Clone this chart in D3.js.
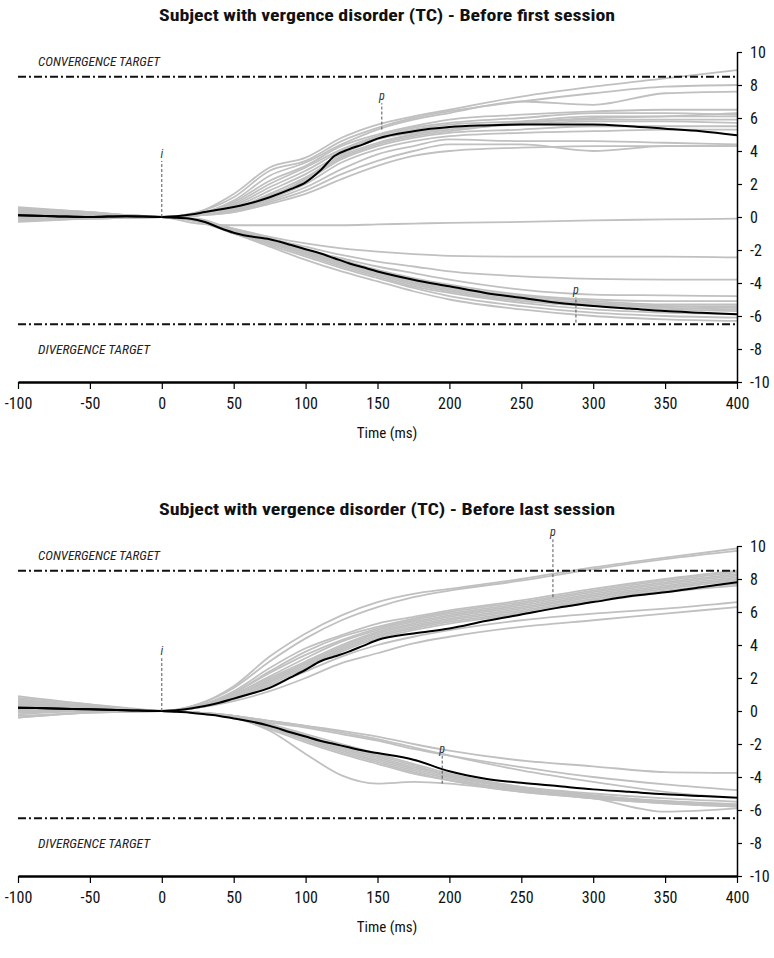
<!DOCTYPE html>
<html><head><meta charset="utf-8">
<script src="https://d3js.org/d3.v7.min.js"></script>
<style>
body{margin:0;background:#fff;}
svg text{font-family:"Liberation Sans Narrow","Arial Narrow","Roboto Condensed","Open Sans",sans-serif;}
</style></head>
<body>
<script>
// ---------- DATA ----------
const xTicks = [-100,-50,0,50,100,150,200,250,300,350,400];
const yTicks = [-10,-8,-6,-4,-2,0,2,4,6,8,10];
const titles = ["Subject with vergence disorder (TC) - Before first session",
                "Subject with vergence disorder (TC) - Before last session"];
const xLabel = "Time (ms)";
const convergenceTarget = 8.5;
const divergenceTarget = -6.5;

// time grid of individual (gray) traces
const tGray = [-100,-50,0,25,50,75,100,125,150,175,200,250,300,350,400];
// time grid of mean (black) traces
const tMean = [-100,-75,-50,-25,0,10,20,30,40,50,60,75,90,100,110,120,130,140,150,175,200,225,250,275,300,325,350,375,400];

// Panel 1 - before first session
const firstConvTrials = [
 [0.5,0.3,0,0.3,1.4,3.0,3.6,4.8,5.6,6.1,6.5,7.3,7.9,8.4,8.9],
 [0.3,0.2,0,0.3,1.2,2.8,3.4,4.6,5.4,6.0,6.4,7.0,7.5,7.9,8.0],
 [0.2,0.1,0,0.2,1.0,2.5,3.3,4.4,5.3,5.9,6.3,7.0,6.8,7.5,7.6],
 [0.6,0.3,0,0.2,0.9,2.2,3.1,4.3,5.0,5.5,5.9,6.2,6.4,6.5,6.5],
 [0.1,0.1,0,0.2,0.8,2.0,3.0,4.1,4.9,5.4,5.7,6.0,6.3,6.3,6.2],
 [0.4,0.2,0,0.2,0.7,1.8,2.8,4.0,4.8,5.3,5.6,5.8,6.1,6.1,6.1],
 [-0.1,0.0,0,0.2,0.6,1.6,2.6,3.8,4.7,5.1,5.4,5.7,5.9,5.9,5.9],
 [0.2,0.1,0,0.1,0.5,1.4,2.4,3.7,4.5,5.0,5.3,5.6,5.8,5.8,5.7],
 [0.0,0.0,0,0.1,0.5,1.3,2.2,3.5,4.3,4.8,5.1,5.3,5.5,5.5,5.5],
 [-0.2,-0.1,0,0.1,0.4,1.1,2.0,3.3,4.1,4.6,4.9,5.1,5.2,5.3,5.3],
 [0.3,0.1,0,0.1,0.4,1.0,1.8,2.9,3.8,4.3,4.7,4.6,4.6,4.5,4.4],
 [0.1,0.0,0,0.1,0.3,0.9,1.6,2.6,3.4,4.0,4.4,4.4,4.0,4.3,4.3],
 [-0.3,-0.1,0,0.1,0.3,0.8,1.4,2.3,3.1,3.7,4.0,4.2,4.3,4.3,4.3],
 [0.2,0.1,0,0.1,0.4,1.2,2.3,3.6,4.4,4.9,5.2,5.7,6.0,6.1,6.3]
];
const firstDivTrials = [
 [0.3,0.1,0,-0.4,-0.5,-0.5,-0.5,-0.5,-0.45,-0.4,-0.35,-0.3,-0.2,-0.15,-0.1],
 [0.0,0.0,0,-0.2,-0.7,-1.2,-1.6,-1.9,-2.1,-2.25,-2.35,-2.4,-2.4,-2.4,-2.45],
 [0.2,0.1,0,-0.2,-0.7,-1.3,-1.8,-2.3,-2.7,-3.0,-3.3,-3.6,-3.75,-3.8,-3.8],
 [0.1,0.0,0,-0.2,-0.8,-1.4,-2.0,-2.5,-3.0,-3.4,-3.8,-4.4,-4.7,-4.75,-4.8],
 [0.4,0.2,0,-0.2,-0.8,-1.4,-2.0,-2.6,-3.2,-3.7,-4.1,-4.7,-5.0,-5.1,-5.1],
 [-0.1,0.0,0,-0.2,-0.9,-1.5,-2.1,-2.7,-3.3,-3.8,-4.2,-4.8,-5.1,-5.3,-5.3],
 [0.3,0.1,0,-0.1,-0.8,-1.4,-2.1,-2.7,-3.3,-3.9,-4.3,-4.9,-5.2,-5.4,-5.5],
 [0.0,0.0,0,-0.2,-0.9,-1.5,-2.2,-2.8,-3.4,-4.0,-4.4,-5.0,-5.3,-5.5,-5.6],
 [0.5,0.2,0,-0.2,-0.9,-1.6,-2.2,-2.9,-3.5,-4.1,-4.5,-5.1,-5.4,-5.6,-5.7],
 [-0.2,-0.1,0,-0.2,-1.0,-1.6,-2.3,-3.0,-3.6,-4.2,-4.6,-5.2,-5.6,-5.8,-5.9],
 [0.2,0.1,0,-0.2,-1.0,-1.7,-2.4,-3.1,-3.7,-4.3,-4.8,-5.4,-5.8,-6.0,-6.1],
 [0.1,0.0,0,-0.3,-1.0,-1.8,-2.6,-3.3,-3.9,-4.5,-5.0,-5.6,-6.0,-6.2,-6.3],
 [0.4,0.2,0,-0.2,-0.9,-1.5,-2.1,-2.8,-3.4,-3.9,-4.3,-4.9,-5.3,-5.4,-5.4]
];
const firstConvMean = [0.1,0.05,0.0,0.05,0,0.05,0.15,0.3,0.45,0.6,0.8,1.2,1.7,2.1,2.8,3.7,4.1,4.4,4.75,5.2,5.45,5.55,5.6,5.6,5.6,5.5,5.35,5.2,4.95];
const firstDivMean  = [0.1,0.05,0.0,0.05,0,-0.05,-0.1,-0.3,-0.65,-0.95,-1.15,-1.35,-1.7,-1.95,-2.2,-2.5,-2.8,-3.05,-3.3,-3.8,-4.2,-4.6,-4.9,-5.2,-5.4,-5.55,-5.7,-5.8,-5.9];

// Panel 2 - before last session
const lastConvTrials = [
 [0.9,0.4,0,0.4,1.5,3.3,4.7,5.8,6.6,7.1,7.4,8.0,8.7,9.3,9.85],
 [0.7,0.3,0,0.4,1.4,3.0,4.4,5.5,6.3,6.9,7.3,7.9,8.6,9.2,9.7],
 [0.5,0.2,0,0.3,1.2,2.6,3.8,4.6,5.3,5.7,6.1,6.7,7.4,8.0,8.5],
 [0.3,0.1,0,0.3,1.1,2.4,3.6,4.5,5.1,5.6,6.0,6.6,7.3,7.9,8.4],
 [-0.2,0.0,0,0.3,1.1,2.3,3.4,4.3,5.0,5.5,5.9,6.5,7.2,7.8,8.3],
 [0.6,0.3,0,0.3,1.0,2.1,3.2,4.2,4.9,5.4,5.8,6.4,7.1,7.7,8.2],
 [0.1,0.0,0,0.2,1.0,2.0,3.0,4.0,4.8,5.3,5.7,6.3,7.0,7.6,8.1],
 [-0.4,-0.1,0,0.2,0.9,1.9,2.9,3.9,4.7,5.2,5.6,6.2,6.9,7.5,8.0],
 [0.4,0.2,0,0.2,0.9,1.8,2.8,3.8,4.6,5.1,5.5,6.1,6.8,7.4,7.9],
 [0.2,0.1,0,0.2,0.8,1.7,2.7,3.7,4.5,5.0,5.4,6.0,6.7,7.3,7.7],
 [-0.1,0.0,0,0.2,0.8,1.6,2.6,3.6,4.4,4.9,5.3,5.9,6.6,7.2,7.6],
 [0.3,0.1,0,0.2,0.7,1.5,2.4,3.3,4.0,4.5,4.9,5.5,5.9,6.2,6.6],
 [0.0,0.0,0,0.2,0.6,1.2,2.0,2.9,3.5,4.1,4.5,5.1,5.5,5.9,6.3]
];
const lastDivTrials = [
 [0.7,0.3,0,-0.1,-0.3,-0.6,-0.9,-1.2,-1.55,-2.0,-2.4,-3.0,-3.35,-3.7,-3.75],
 [0.5,0.2,0,-0.1,-0.3,-0.7,-1.0,-1.4,-1.8,-2.3,-2.7,-3.4,-4.0,-4.45,-4.8],
 [0.2,0.1,0,-0.1,-0.3,-0.6,-0.9,-1.3,-1.7,-2.2,-2.7,-3.6,-4.3,-4.9,-5.3],
 [0.8,0.4,0,-0.1,-0.4,-1.2,-2.6,-3.9,-4.4,-4.3,-4.4,-4.9,-5.3,-5.6,-5.8],
 [0.4,0.2,0,-0.1,-0.3,-0.8,-1.4,-2.0,-2.6,-3.2,-3.8,-4.6,-5.1,-5.5,-5.7],
 [0.2,0.1,0,-0.1,-0.3,-0.9,-1.5,-2.2,-2.8,-3.4,-3.9,-4.7,-5.2,-5.55,-5.75],
 [-0.3,-0.1,0,-0.1,-0.4,-1.0,-1.7,-2.4,-3.0,-3.6,-4.1,-4.8,-5.2,-5.5,-5.7],
 [0.6,0.3,0,-0.1,-0.4,-1.1,-1.9,-2.6,-3.2,-3.8,-4.2,-4.8,-5.3,-5.6,-5.8],
 [0.0,0.0,0,-0.1,-0.3,-0.8,-1.5,-2.1,-2.7,-3.3,-3.9,-4.6,-5.0,-5.3,-5.5],
 [-0.4,-0.1,0,-0.1,-0.4,-1.0,-1.8,-2.5,-3.1,-3.7,-4.2,-4.9,-5.3,-6.1,-5.9],
 [0.3,0.1,0,-0.1,-0.3,-0.9,-1.6,-2.3,-2.9,-3.5,-4.0,-4.7,-5.15,-5.45,-5.65]
];
const lastConvMean = [0.2,0.15,0.1,0.05,0,0.05,0.15,0.3,0.5,0.75,1.0,1.4,2.05,2.5,3.0,3.3,3.6,3.95,4.3,4.7,5.0,5.45,5.85,6.25,6.6,6.95,7.2,7.5,7.8];
const lastDivMean  = [0.2,0.15,0.1,0.05,0,-0.05,-0.1,-0.2,-0.3,-0.45,-0.6,-0.9,-1.3,-1.55,-1.8,-2.0,-2.2,-2.4,-2.55,-2.95,-3.65,-4.1,-4.35,-4.55,-4.75,-4.9,-5.05,-5.15,-5.25];

// event markers: i = initiation, p = peak  (time, lower value, upper value)
const firstMarkers = [
 {label:"i", t:0,   lo:0,    hi:3.4},
 {label:"p", t:153, lo:5.3,  hi:6.9},
 {label:"p", t:288, lo:-6.4, hi:-4.85}
];
const lastMarkers = [
 {label:"i", t:0,   lo:0,    hi:3.2},
 {label:"p", t:272, lo:6.9,  hi:10.4},
 {label:"p", t:195, lo:-4.4, hi:-2.7}
];

// ---------- DRAWING ----------
const W = 774, H = 958;
const svg = d3.select("body").append("svg").attr("width", W).attr("height", H);

function panel(cfg) {
  const x = d3.scaleLinear().domain([-100, 400]).range([18, 737]);
  const y = d3.scaleLinear().domain([-10, 10]).range([cfg.bottom, cfg.bottom - 330]);
  const g = svg.append("g");

  // title
  g.append("text").attr("x", 387).attr("y", cfg.bottom - 361)
    .attr("text-anchor", "middle").attr("font-weight", "bold").attr("font-size", 16)
    .attr("textLength", 456).attr("lengthAdjust", "spacingAndGlyphs")
    .attr("fill", "#111").text(cfg.title);

  const lineGray = d3.line().x((d, i) => x(tGray[i])).y(d => y(d)).curve(d3.curveMonotoneX);
  const lineMean = d3.line().x((d, i) => x(tMean[i])).y(d => y(d)).curve(d3.curveMonotoneX);

  g.selectAll("path.gray").data(cfg.conv.concat(cfg.div)).enter().append("path")
    .attr("class", "gray").attr("d", lineGray)
    .attr("fill", "none").attr("stroke", "#c0c0c0").attr("stroke-width", 1.8);

  // targets
  [cfg.convT, cfg.divT].forEach(v => {
    g.append("line").attr("x1", 18).attr("x2", 737).attr("y1", y(v)).attr("y2", y(v))
      .attr("stroke", "#111").attr("stroke-width", 2).attr("stroke-dasharray", "8,3,2,3");
  });
  g.append("text").attr("x", 38).attr("y", y(cfg.convT) - 11).attr("font-size", 12)
    .attr("font-style", "italic").attr("textLength", 122).attr("lengthAdjust", "spacingAndGlyphs")
    .attr("fill", "#222").text("CONVERGENCE TARGET");
  g.append("text").attr("x", 38).attr("y", y(cfg.divT) + 30).attr("font-size", 12)
    .attr("font-style", "italic").attr("textLength", 112).attr("lengthAdjust", "spacingAndGlyphs")
    .attr("fill", "#222").text("DIVERGENCE TARGET");

  [cfg.convMean, cfg.divMean].forEach(m => {
    g.append("path").datum(m).attr("d", lineMean)
      .attr("fill", "none").attr("stroke", "#000").attr("stroke-width", 2);
  });

  // markers
  cfg.markers.forEach(mk => {
    g.append("line").attr("x1", x(mk.t)).attr("x2", x(mk.t)).attr("y1", y(mk.lo)).attr("y2", y(mk.hi))
      .attr("stroke", "#555").attr("stroke-width", 1).attr("stroke-dasharray", "3,2");
    g.append("text").attr("x", x(mk.t)).attr("y", y(mk.hi) - 3).attr("text-anchor", "middle")
      .attr("font-size", 12).attr("font-style", "italic").attr("fill", "#333").text(mk.label);
  });

  // axes
  const xa = g.append("g").attr("transform", `translate(0,${cfg.bottom})`)
    .call(d3.axisBottom(x).tickValues(xTicks).tickSize(7).tickSizeOuter(0).tickPadding(9).tickFormat(d => String(d)));
  xa.select(".domain").attr("stroke", "#000").attr("stroke-width", 2.5);
  xa.selectAll(".tick line").attr("stroke", "#000").attr("stroke-width", 1.2);
  xa.selectAll("text").attr("font-size", 16).attr("fill", "#111");

  const ya = g.append("g").attr("transform", `translate(737,0)`)
    .call(d3.axisRight(y).tickValues(yTicks).tickSize(5).tickSizeOuter(0).tickPadding(8).tickFormat(d => String(d)));
  ya.select(".domain").attr("stroke", "#000").attr("stroke-width", 1.5);
  ya.selectAll(".tick line").attr("stroke", "#000").attr("stroke-width", 1.2);
  ya.selectAll("text").attr("font-size", 16).attr("fill", "#111");

  g.append("text").attr("x", 387).attr("y", cfg.bottom + 56).attr("text-anchor", "middle")
    .attr("font-size", 15).attr("fill", "#111").text(xLabel);
}

panel({bottom: 382, title: titles[0], conv: firstConvTrials, div: firstDivTrials,
       convMean: firstConvMean, divMean: firstDivMean, markers: firstMarkers,
       convT: convergenceTarget, divT: divergenceTarget});
panel({bottom: 876, title: titles[1], conv: lastConvTrials, div: lastDivTrials,
       convMean: lastConvMean, divMean: lastDivMean, markers: lastMarkers,
       convT: convergenceTarget, divT: divergenceTarget});
</script>
</body></html>
